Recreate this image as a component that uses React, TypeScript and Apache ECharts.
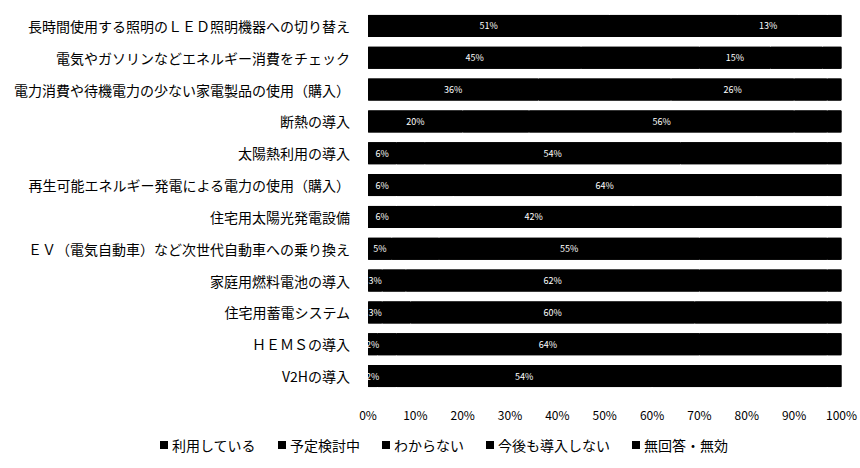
import React, { useEffect, useRef } from "react";
import * as echarts from "echarts";

const categories = [
  "長時間使用する照明のＬＥＤ照明機器への切り替え",
  "電気やガソリンなどエネルギー消費をチェック",
  "電力消費や待機電力の少ない家電製品の使用（購入）",
  "断熱の導入",
  "太陽熱利用の導入",
  "再生可能エネルギー発電による電力の使用（購入）",
  "住宅用太陽光発電設備",
  "ＥＶ（電気自動車）など次世代自動車への乗り換え",
  "家庭用燃料電池の導入",
  "住宅用蓄電システム",
  "ＨＥＭＳの導入",
  "V2Hの導入",
];

const seriesNames = ["利用している", "予定検討中", "わからない", "今後も導入しない", "無回答・無効"];

const using = [51, 45, 36, 20, 6, 6, 6, 5, 3, 3, 2, 2];
const planning = [27, 25, 28, 14, 6, 12, 8, 10, 5, 6, 4, 4];
const unknown = [13, 15, 26, 56, 54, 64, 42, 55, 62, 60, 64, 54];
const never = [6, 11, 7, 7, 31, 15, 41, 27, 27, 28, 27, 37];
const noAnswer = [3, 4, 3, 3, 3, 3, 3, 3, 3, 3, 3, 3];

const xTicks = ["0%", "10%", "20%", "30%", "40%", "50%", "60%", "70%", "80%", "90%", "100%"];

const seriesValues = [using, planning, unknown, never, noAnswer];
const showLabel = [true, false, true, false, false];

export default function App() {
  const ref = useRef<HTMLDivElement>(null);

  useEffect(() => {
    document.body.style.margin = "0";
    if (!ref.current) return;
    const chart = echarts.init(ref.current, undefined, { renderer: "svg" });
    const font = "'Noto Sans CJK JP', 'Noto Sans', sans-serif";
    chart.setOption({
      animation: false,
      backgroundColor: "#ffffff",
      textStyle: { fontFamily: font },
      grid: { left: 368, right: 17, top: 10, bottom: 76, containLabel: false },
      legend: {
        data: seriesNames,
        left: 160,
        top: 438,
        padding: 0,
        icon: "rect",
        itemWidth: 6,
        itemHeight: 6,
        itemGap: 22,
        textStyle: { fontSize: 14, color: "#000", fontFamily: font },
      },
      xAxis: {
        type: "value",
        min: 0,
        max: 100,
        interval: 10,
        axisLine: { show: false },
        axisTick: { show: false },
        splitLine: { show: false },
        axisLabel: {
          color: "#000",
          fontSize: 12,
          margin: 16,
          fontFamily: font,
          formatter: (v: number) => xTicks[Math.round(v / 10)],
        },
      },
      yAxis: {
        type: "category",
        data: categories,
        inverse: true,
        axisLine: { show: false },
        axisTick: { show: false },
        axisLabel: { color: "#000", fontSize: 14, margin: 18, fontFamily: font },
      },
      series: seriesNames.map((name, i) => ({
        name,
        type: "bar",
        stack: "total",
        barCategoryGap: "31%",
        data: seriesValues[i],
        showBackground: i === 0,
        backgroundStyle: { color: "#000000", opacity: 1 },
        itemStyle: { color: "#000000", borderColor: "#000000", borderWidth: 1 },
        label: {
          show: showLabel[i],
          position: "inside",
          color: "#ffffff",
          fontSize: 9,
          formatter: "{c}%",
        },
      })),
    });
    return () => chart.dispose();
  }, []);

  return <div ref={ref} style={{ width: 860, height: 468 }} />;
}
